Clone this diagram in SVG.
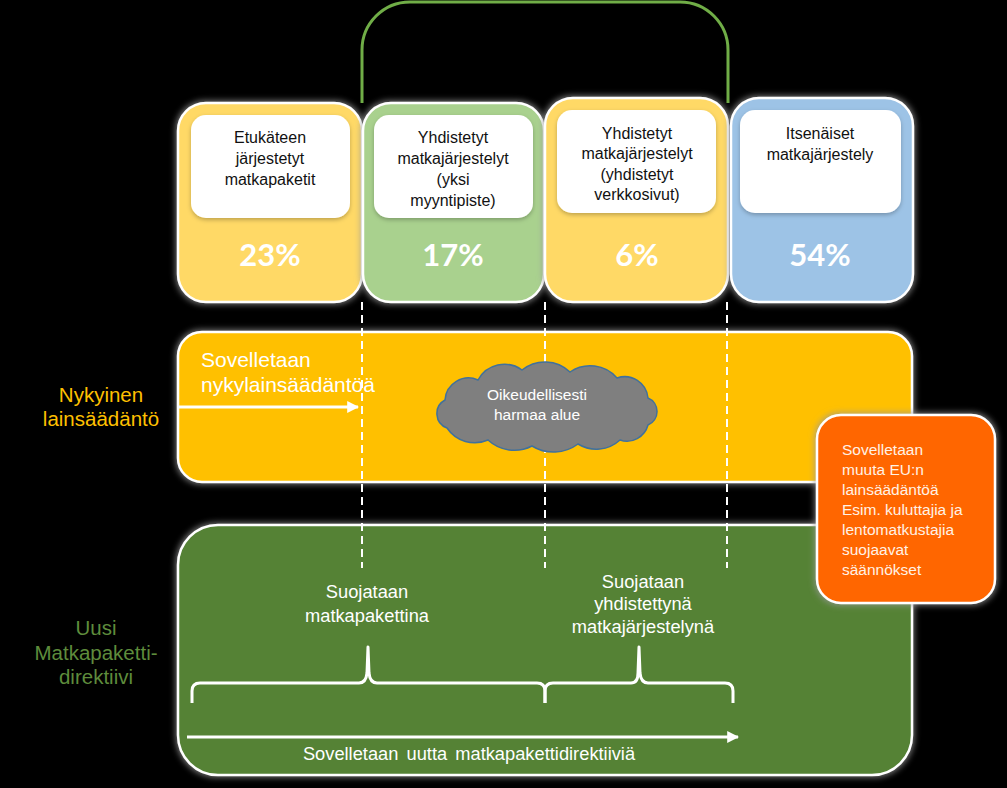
<svg xmlns="http://www.w3.org/2000/svg" width="1007" height="788" viewBox="0 0 1007 788">
<defs>
<filter id="glow" x="-10%" y="-10%" width="120%" height="120%">
<feMorphology in="SourceAlpha" operator="dilate" radius="1" result="d"/>
<feGaussianBlur in="d" stdDeviation="3" result="b"/>
<feFlood flood-color="#9a9a9a" flood-opacity="0.8"/>
<feComposite in2="b" operator="in" result="g"/>
<feMerge><feMergeNode in="g"/><feMergeNode in="SourceGraphic"/></feMerge>
</filter>
<filter id="sh" x="-10%" y="-10%" width="120%" height="130%">
<feDropShadow dx="0" dy="2" stdDeviation="2" flood-color="#000" flood-opacity="0.25"/>
</filter>
<marker id="ah" viewBox="0 0 10 10" refX="9" refY="5" markerWidth="4" markerHeight="4" orient="auto" markerUnits="strokeWidth">
<path d="M0,0 L10,5 L0,10 z" fill="#fff"/>
</marker>
</defs>
<style>
.box{stroke:#fff;stroke-width:2.5}
.inner{fill:#fff}
.t{font-family:"Liberation Sans",Arial,sans-serif;text-anchor:middle}
.bt{font-size:16px;fill:#111}
.pct{font-family:Lato,"Liberation Sans",sans-serif;font-weight:bold;font-size:31px;fill:#fff;text-anchor:middle}
.w{fill:#fff}
.dash{stroke:#fff;stroke-width:2;stroke-dasharray:8 5;fill:none}
.brace{stroke:#fff;stroke-width:3;fill:none;stroke-linejoin:round}
</style>
<rect x="0" y="0" width="1007" height="788" fill="#000"/>

<g id="bracket-top">
<path d="M362,103 V50 A48,48 0 0 1 410,2 H680 A48,48 0 0 1 728,50 V103" fill="none" stroke="#70AD47" stroke-width="3"/>
</g>

<g id="node-etukateen">
<rect class="box" x="178" y="103" width="184" height="199" rx="28" fill="#FFD966" filter="url(#glow)"/>
<rect class="inner" x="191" y="115" width="159" height="103" rx="15" filter="url(#sh)"/>
<text class="t bt"><tspan x="270" y="143">Etukäteen</tspan><tspan x="270" y="164">järjestetyt</tspan><tspan x="270" y="185">matkapaketit</tspan></text>
<text class="pct" x="270" y="266">23%</text>
</g>

<g id="node-yksi">
<rect class="box" x="363" y="103" width="181" height="199" rx="28" fill="#A9D18E" filter="url(#glow)"/>
<rect class="inner" x="374" y="115" width="159" height="103" rx="15" filter="url(#sh)"/>
<text class="t bt"><tspan x="453" y="143">Yhdistetyt</tspan><tspan x="453" y="164">matkajärjestelyt</tspan><tspan x="453" y="185">(yksi</tspan><tspan x="453" y="206">myyntipiste)</tspan></text>
<text class="pct" x="453" y="266">17%</text>
</g>

<g id="node-verkko">
<rect class="box" x="545" y="98" width="183" height="204" rx="28" fill="#FFD966" filter="url(#glow)"/>
<rect class="inner" x="557" y="110" width="159" height="103" rx="15" filter="url(#sh)"/>
<text class="t bt"><tspan x="637" y="139">Yhdistetyt</tspan><tspan x="637" y="159">matkajärjestelyt</tspan><tspan x="637" y="180">(yhdistetyt</tspan><tspan x="637" y="200">verkkosivut)</tspan></text>
<text class="pct" x="637" y="266">6%</text>
</g>

<g id="node-itsenaiset">
<rect class="box" x="731" y="98" width="182" height="204" rx="28" fill="#9DC3E6" filter="url(#glow)"/>
<rect class="inner" x="740" y="110" width="161" height="103" rx="15" filter="url(#sh)"/>
<text class="t bt"><tspan x="820" y="139">Itsenäiset</tspan><tspan x="820" y="160">matkajärjestely</tspan></text>
<text class="pct" x="820" y="266">54%</text>
</g>

<g id="node-nykyinen-label">
<text class="t" font-size="20.5" fill="#FFC000"><tspan x="101" y="402">Nykyinen</tspan><tspan x="101" y="426">lainsäädäntö</tspan></text>
</g>

<g id="node-uusi-label">
<text class="t" font-size="20.5" fill="#5E8C3C"><tspan x="96" y="635">Uusi</tspan><tspan x="96" y="660">Matkapaketti-</tspan><tspan x="96" y="684">direktiivi</tspan></text>
</g>

<g id="node-nykylaki">
<rect class="box" x="178" y="332" width="734" height="150" rx="24" fill="#FFC000" filter="url(#glow)"/>
</g>

<g id="node-uusi">
<rect class="box" x="178" y="525" width="734" height="250" rx="40" fill="#548235" filter="url(#glow)"/>
</g>

<g id="connectors">
<line class="dash" x1="362" y1="302" x2="362" y2="568"/>
<line class="dash" x1="545" y1="302" x2="545" y2="568"/>
<line class="dash" x1="727" y1="302" x2="727" y2="568"/>
<line x1="179" y1="407" x2="358" y2="407" stroke="#fff" stroke-width="3" marker-end="url(#ah)"/>
<line x1="187" y1="737" x2="738" y2="737" stroke="#fff" stroke-width="3" marker-end="url(#ah)"/>
<path class="brace" d="M192,703 V691 Q192,683 200,683 H359 Q366,683 367,673 L368,647 L369,673 Q370,683 377,683 H537 Q545,683 545,691 V703"/>
<path class="brace" d="M545,703 V691 Q545,683 553,683 H631 Q638,683 638,673 L639,647 L640,673 Q641,683 648,683 H725 Q733,683 733,691 V703"/>
</g>

<g id="node-nykylaki-text">
<text class="w" font-family="Liberation Sans, Arial, sans-serif" font-size="21"><tspan x="201" y="367">Sovelletaan</tspan><tspan x="201" y="392">nykylainsäädäntöä</tspan></text>
</g>

<g id="node-cloud">
<path d="M447,428 A15.4,15.4 0 0 1 445,400 A23.6,23.6 0 0 1 478,380 A30,30 0 0 1 522,370 A36.5,36.5 0 0 1 570,372 A35.7,35.7 0 0 1 617,378 A23.5,23.5 0 0 1 648,398 A14.6,14.6 0 0 1 648,425 A21.8,21.8 0 0 1 620,440 A35,35 0 0 1 578,444 A41,41 0 0 1 532,446 A38.7,38.7 0 0 1 488,440 A33.4,33.4 0 0 1 447,428 Z" fill="#7F7F7F" stroke="#41719C" stroke-width="1.5"/>
<text class="t w" font-size="15.5"><tspan x="537" y="400">Oikeudellisesti</tspan><tspan x="537" y="420">harmaa alue</tspan></text>
</g>

<g id="node-uusi-text">
<text class="t w" font-size="18.3"><tspan x="367" y="598">Suojataan</tspan><tspan x="367" y="622">matkapakettina</tspan></text>
<text class="t w" font-size="18.3"><tspan x="643" y="588">Suojataan</tspan><tspan x="643" y="610">yhdistettynä</tspan><tspan x="643" y="633">matkajärjestelynä</tspan></text>
<text class="t w" font-size="18.3" word-spacing="3" x="469" y="760">Sovelletaan uutta matkapakettidirektiiviä</text>
</g>

<g id="node-muu-eu">
<rect class="box" x="817" y="415" width="178" height="188" rx="24" fill="#FF6600" filter="url(#glow)"/>
<text font-family="Liberation Sans, Arial, sans-serif" font-size="15.5" fill="#FFF2E6"><tspan x="842" y="455">Sovelletaan</tspan><tspan x="842" y="475">muuta EU:n</tspan><tspan x="842" y="495">lainsäädäntöä</tspan><tspan x="842" y="515">Esim. kuluttajia  ja</tspan><tspan x="842" y="535">lentomatkustajia</tspan><tspan x="842" y="555">suojaavat</tspan><tspan x="842" y="575">säännökset</tspan></text>
</g>
</svg>
